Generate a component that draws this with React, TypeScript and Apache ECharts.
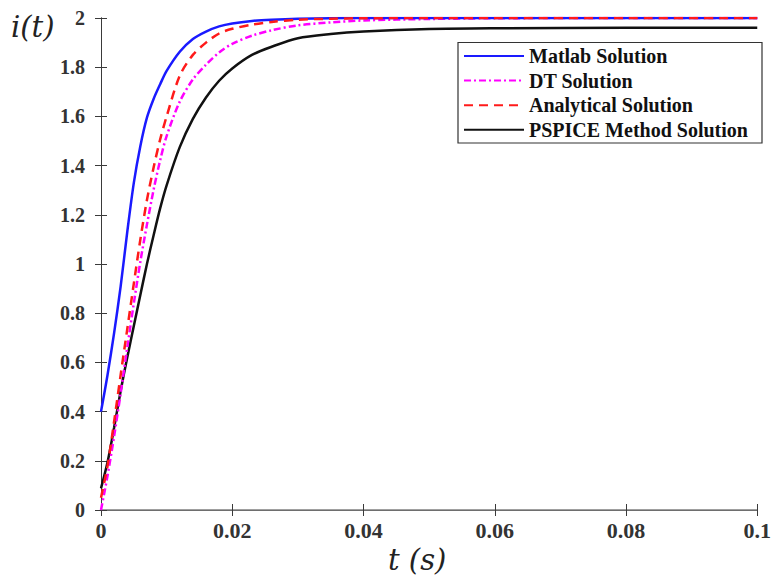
import React, { useEffect, useRef } from "react";
import * as echarts from "echarts";

const timeS = [0, 0.001, 0.002, 0.003, 0.004, 0.005, 0.006, 0.007, 0.008, 0.009, 0.01, 0.012, 0.014, 0.016, 0.018, 0.02, 0.023, 0.026, 0.03, 0.035, 0.04, 0.05, 0.06, 0.08, 0.1];
const matlabI = [0.4, 0.55, 0.72, 0.91, 1.13, 1.33, 1.48, 1.595, 1.67, 1.73, 1.785, 1.863, 1.915, 1.945, 1.966, 1.978, 1.988, 1.993, 1.997, 1.999, 2, 2, 2, 2, 2];
const dtI = [0.0, 0.14, 0.3, 0.475, 0.66, 0.84, 1.01, 1.16, 1.3, 1.42, 1.52, 1.66, 1.75, 1.81, 1.86, 1.895, 1.928, 1.95, 1.97, 1.982, 1.99, 1.996, 1.999, 2, 2];
const analyticalI = [0.05, 0.18, 0.36, 0.55, 0.735, 0.92, 1.1, 1.26, 1.39, 1.505, 1.6, 1.765, 1.85, 1.9, 1.937, 1.956, 1.973, 1.984, 1.993, 1.997, 1.999, 2, 2, 2, 2];
const pspiceI = [0.088, 0.195, 0.335, 0.485, 0.62, 0.748, 0.875, 1.0, 1.115, 1.225, 1.32, 1.475, 1.59, 1.677, 1.745, 1.795, 1.85, 1.883, 1.918, 1.935, 1.945, 1.955, 1.958, 1.96, 1.96];

const seriesNames = ["Matlab Solution", "DT Solution", "Analytical Solution", "PSPICE Method Solution"];

const pairs = (ys: number[]) => timeS.map((t, k) => [t, ys[k]]);

export default function App() {
  const ref = useRef<HTMLDivElement>(null);
  useEffect(() => {
    document.body.style.margin = "0";
    const chart = echarts.init(ref.current!, null, { renderer: "svg" });
    const axisColor = "#3a3a3a";
    const tickFont = { fontFamily: "Liberation Serif", fontWeight: "bold" as const, color: "#333" };
    const lineCommon = {
      type: "line" as const,
      showSymbol: false,
      symbol: "none",
      smooth: 0.3,
      xAxisIndex: 0,
      yAxisIndex: 0,
    };
    chart.setOption({
      animation: false,
      backgroundColor: "#fff",
      grid: { left: 101, right: 12, top: 18, bottom: 69, show: false },
      xAxis: [
        {
          type: "value",
          min: 0,
          max: 0.1,
          interval: 0.02,
          position: "bottom",
          splitLine: { show: false },
          axisLine: { show: true, lineStyle: { color: axisColor, width: 1 } },
          axisTick: { show: true, inside: true, length: 6, lineStyle: { color: axisColor } },
          axisLabel: { ...tickFont, fontSize: 22, margin: 9 },
        },
        {
          type: "value",
          min: 0,
          max: 0.1,
          interval: 0.02,
          position: "top",
          splitLine: { show: false },
          axisLine: { show: true, lineStyle: { color: "#808080", width: 1.5 } },
          axisTick: { show: true, inside: true, length: 6, lineStyle: { color: axisColor } },
          axisLabel: { show: false },
        },
      ],
      yAxis: [
        {
          type: "value",
          min: 0,
          max: 2,
          interval: 0.2,
          position: "left",
          splitLine: { show: false },
          axisLine: { show: true, lineStyle: { color: axisColor, width: 1 } },
          axisTick: { show: true, inside: true, length: 6, lineStyle: { color: axisColor } },
          axisLabel: { ...tickFont, fontSize: 20, margin: 16 },
        },
        {
          type: "value",
          min: 0,
          max: 2,
          interval: 0.2,
          position: "right",
          splitLine: { show: false },
          axisLine: { show: true, lineStyle: { color: axisColor, width: 1 } },
          axisTick: { show: true, inside: true, length: 6, lineStyle: { color: axisColor } },
          axisLabel: { show: false },
        },
      ],
      legend: {
        orient: "vertical",
        left: 463,
        top: 46,
        padding: 0,
        itemWidth: 60,
        itemHeight: 16,
        itemGap: 4.6,
        z: 20,
        data: seriesNames,
        itemStyle: { opacity: 0 },
        textStyle: { fontFamily: "Liberation Serif", fontWeight: "bold", fontSize: 20, color: "#111", lineHeight: 16 },
      },
      graphic: [
        {
          type: "rect",
          z: 15,
          shape: { x: 458, y: 42.5, width: 304, height: 100.5 },
          style: { fill: "#fff", stroke: "#333", lineWidth: 1.2 },
        },
        {
          type: "text",
          left: 11,
          top: 12,
          style: { text: "i(t)", font: "italic 29px 'DejaVu Serif'", fill: "#222" },
        },
        {
          type: "text",
          left: 388,
          top: 545,
          style: { text: "t (s)", font: "italic 29px 'DejaVu Serif'", fill: "#222" },
        },
      ],
      series: [
        {
          ...lineCommon,
          name: seriesNames[0],
          data: pairs(matlabI),
          lineStyle: { color: "#1a1aff", width: 2.5, type: "solid" },
          itemStyle: { color: "#1a1aff" },
          z: 4,
        },
        {
          ...lineCommon,
          name: seriesNames[1],
          data: pairs(dtI),
          lineStyle: { color: "#ff00ff", width: 2.5, type: [7, 3, 2, 3] },
          itemStyle: { color: "#ff00ff" },
          z: 3,
        },
        {
          ...lineCommon,
          name: seriesNames[2],
          data: pairs(analyticalI),
          lineStyle: { color: "#ff1a1a", width: 2.5, type: [9, 6] },
          itemStyle: { color: "#ff1a1a" },
          z: 5,
        },
        {
          ...lineCommon,
          name: seriesNames[3],
          data: pairs(pspiceI),
          lineStyle: { color: "#111", width: 2.5, type: "solid" },
          itemStyle: { color: "#111" },
          z: 2,
        },
      ],
    });
    return () => chart.dispose();
  }, []);
  return <div ref={ref} style={{ width: 774, height: 579 }} />;
}
